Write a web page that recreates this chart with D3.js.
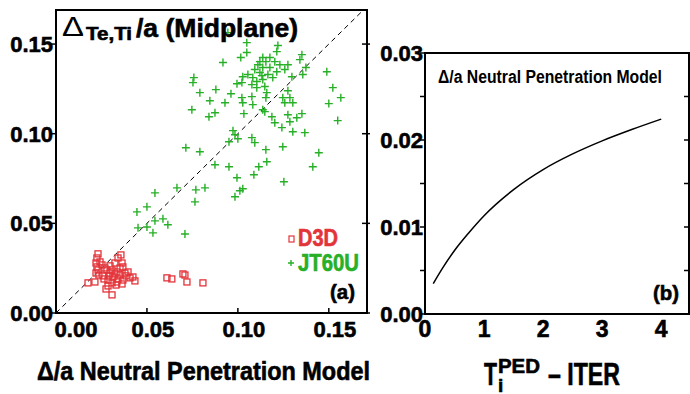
<!DOCTYPE html>
<html lang="en">
<head>
    <meta charset="UTF-8">
    <title>Pedestal width vs neutral penetration model</title>
    <script src="https://d3js.org/d3.v7.js"></script>
    <style>
        body { margin: 0; background: #fff; }
        text { font-family: "Liberation Sans", Arial, sans-serif; font-weight: bold; }
        .heavy { stroke: #000; stroke-width: 0.6; }
    </style>
</head>
<body>
<svg></svg>
<script>
    // panel (a): measured vs model pedestal width
    let d3dX = [0.0231, 0.0225, 0.0220, 0.0225, 0.0231, 0.0220, 0.0357, 0.0341, 0.0363, 0.0368,
        0.0324, 0.0280, 0.0297, 0.0258, 0.0313, 0.0286, 0.0335, 0.0352, 0.0379, 0.0368,
        0.0363, 0.0423, 0.0434, 0.0407, 0.0176, 0.0214, 0.0275, 0.0286, 0.0308, 0.0335,
        0.0610, 0.0637, 0.0698, 0.0709, 0.0720, 0.0808, 0.0253, 0.0269, 0.0297, 0.0308,
        0.0324, 0.0264, 0.0341, 0.0385, 0.0396, 0.0242, 0.0236, 0.0352, 0.0308, 0.0330, 0.0291];
    let d3dY = [0.0330, 0.0307, 0.0279, 0.0257, 0.0240, 0.0223, 0.0324, 0.0307, 0.0279, 0.0257,
        0.0279, 0.0240, 0.0223, 0.0207, 0.0201, 0.0184, 0.0229, 0.0212, 0.0223, 0.0184,
        0.0162, 0.0201, 0.0179, 0.0196, 0.0168, 0.0173, 0.0134, 0.0151, 0.0101, 0.0173,
        0.0196, 0.0190, 0.0218, 0.0212, 0.0173, 0.0168, 0.0268, 0.0251, 0.0263, 0.0240,
        0.0218, 0.0190, 0.0190, 0.0207, 0.0229, 0.0285, 0.0212, 0.0251, 0.0168, 0.0156, 0.0207];

    let jtX = [0.0945, 0.1049, 0.1220, 0.1049, 0.1214, 0.1352, 0.0918, 0.1016, 0.1137, 0.1176,
        0.1121, 0.1154, 0.1203, 0.1231, 0.1275, 0.1341, 0.1374, 0.1489, 0.1137, 0.1176,
        0.1214, 0.1121, 0.1055, 0.1027, 0.1082, 0.1104, 0.1137, 0.1148, 0.1077, 0.1022,
        0.0995, 0.1297, 0.1357, 0.0758, 0.0753, 0.0879, 0.0791, 0.0962, 0.1022, 0.1077,
        0.1154, 0.1286, 0.1258, 0.1522, 0.1566, 0.1500, 0.0846, 0.0929, 0.1027, 0.1082,
        0.1159, 0.1247, 0.1275, 0.1104, 0.0747, 0.1137, 0.1302, 0.0841, 0.0874, 0.1033,
        0.1148, 0.1187, 0.1203, 0.1242, 0.1275, 0.1286, 0.1324, 0.1352, 0.1302, 0.1368,
        0.1549, 0.0973, 0.0984, 0.1000, 0.0951, 0.1077, 0.1093, 0.0714, 0.0791, 0.1154,
        0.1247, 0.1445, 0.0874, 0.0951, 0.1115, 0.1159, 0.1412, 0.0995, 0.1088, 0.1253,
        0.0544, 0.0665, 0.0769, 0.0819, 0.0984, 0.1011, 0.1027, 0.0764, 0.0445, 0.0500,
        0.0451, 0.0500, 0.0544, 0.0588, 0.0615, 0.0533, 0.0709, 0.1110, 0.1165, 0.1192,
        0.1132, 0.1093, 0.1258];
    let jtY = [0.1564, 0.1508, 0.1492, 0.1453, 0.1458, 0.1441, 0.1397, 0.1425, 0.1425, 0.1425,
        0.1402, 0.1402, 0.1402, 0.1385, 0.1385, 0.1413, 0.1369, 0.1346, 0.1369, 0.1369,
        0.1346, 0.1341, 0.1330, 0.1318, 0.1313, 0.1291, 0.1302, 0.1263, 0.1274, 0.1285,
        0.1279, 0.1318, 0.1330, 0.1313, 0.1285, 0.1246, 0.1229, 0.1223, 0.1201, 0.1207,
        0.1201, 0.1201, 0.1173, 0.1257, 0.1201, 0.1168, 0.1184, 0.1173, 0.1173, 0.1162,
        0.1229, 0.1201, 0.1240, 0.1257, 0.1134, 0.1134, 0.1173, 0.1095, 0.1117, 0.1112,
        0.1123, 0.1095, 0.1061, 0.1034, 0.1106, 0.1067, 0.1089, 0.1112, 0.1011, 0.1006,
        0.1073, 0.1017, 0.0994, 0.0972, 0.0955, 0.0978, 0.0950, 0.0922, 0.0899, 0.0911,
        0.0927, 0.0894, 0.0827, 0.0816, 0.0816, 0.0844, 0.0816, 0.0754, 0.0771, 0.0732,
        0.0670, 0.0698, 0.0687, 0.0698, 0.0648, 0.0682, 0.0693, 0.0620, 0.0564, 0.0592,
        0.0475, 0.0480, 0.0514, 0.0525, 0.0492, 0.0447, 0.0441, 0.1385, 0.1330, 0.1313,
        0.1324, 0.1358, 0.1358];

    let ticksA = [0, 0.05, 0.10, 0.15];

    // panel (b): model prediction for ITER
    let tiPed = [0.14, 0.3, 0.5, 0.75, 1, 1.5, 2, 2.5, 3, 3.5, 4];
    let widthModel = [0.0035, 0.0053, 0.0073, 0.0094, 0.0113, 0.0143, 0.0166, 0.0184, 0.0199, 0.0212, 0.0224];
    let ticksBx = [0, 1, 2, 3, 4];
    let ticksBy = [0, 0.01, 0.02, 0.03];
    let minorBy = [0, 0.005, 0.01, 0.015, 0.02, 0.025, 0.03];

    let red = "#e3343a";
    let green = "#27b027";

    let width = 690, height = 394;
    let svg = d3.select("svg").attr("width", width).attr("height", height);

    // ---------- panel (a) ----------
    let xA = d3.scaleLinear().domain([0, 0.171]).range([56, 367]);
    let yA = d3.scaleLinear().domain([0, 0.169]).range([313, 10]);

    svg.append("clipPath").attr("id", "clipA")
        .append("rect").attr("x", 56).attr("y", 10).attr("width", 311).attr("height", 303);

    // y = x reference line
    svg.append("line")
        .attr("clip-path", "url(#clipA)")
        .attr("x1", xA(0)).attr("y1", yA(0))
        .attr("x2", xA(0.171)).attr("y2", yA(0.171))
        .attr("stroke", "#000").attr("stroke-width", 1)
        .attr("stroke-dasharray", "5,4");

    let jt = jtX.map((d, i) => [d, jtY[i]]);
    let d3d = d3dX.map((d, i) => [d, d3dY[i]]);

    svg.append("g").selectAll("path")
        .data(jt)
        .join("path")
        .attr("transform", d => `translate(${xA(d[0])},${yA(d[1])})`)
        .attr("d", "M-4,0H4M0,-4V4")
        .attr("stroke", green).attr("stroke-width", 1.4).attr("fill", "none");

    svg.append("g").selectAll("rect")
        .data(d3d)
        .join("rect")
        .attr("x", d => xA(d[0]) - 3)
        .attr("y", d => yA(d[1]) - 3)
        .attr("width", 6).attr("height", 6)
        .attr("stroke", red).attr("stroke-width", 1.3).attr("fill", "none");

    // frame and ticks
    svg.append("rect").attr("x", 56).attr("y", 10).attr("width", 311).attr("height", 303)
        .attr("fill", "none").attr("stroke", "#000").attr("stroke-width", 2);

    let axA = svg.append("g");
    axA.selectAll(".ly").data(ticksA).join("line").attr("class", "ly")
        .attr("x1", 51).attr("x2", 56).attr("y1", d => yA(d)).attr("y2", d => yA(d))
        .attr("stroke", "#000").attr("stroke-width", 1.5);
    axA.selectAll(".ry").data(ticksA).join("line").attr("class", "ry")
        .attr("x1", 362).attr("x2", 370).attr("y1", d => yA(d)).attr("y2", d => yA(d))
        .attr("stroke", "#000").attr("stroke-width", 1.5);
    axA.selectAll(".bx").data(ticksA).join("line").attr("class", "bx")
        .attr("x1", d => xA(d)).attr("x2", d => xA(d)).attr("y1", 313).attr("y2", 308)
        .attr("stroke", "#000").attr("stroke-width", 1.5);

    axA.selectAll(".yl").data(ticksA).join("text").attr("class", "yl heavy")
        .attr("x", 53).attr("y", d => yA(d) + 8)
        .attr("text-anchor", "end").attr("font-size", 22)
        .text(d => d3.format(".2f")(d));
    axA.selectAll(".xl").data(ticksA).join("text").attr("class", "xl heavy")
        .attr("x", (d, i) => xA(d) + (i === 0 ? 20 : 6)).attr("y", 337)
        .attr("text-anchor", "middle").attr("font-size", 22)
        .text(d => d3.format(".2f")(d));

    // title inside panel (a)
    let tA = svg.append("text");
    tA.append("tspan").attr("x", 62).attr("y", 36).attr("font-size", 27).attr("font-weight", "normal")
        .attr("textLength", 22).attr("lengthAdjust", "spacingAndGlyphs").text("Δ");
    tA.append("tspan").attr("class", "heavy").attr("x", 86).attr("y", 40).attr("font-size", 18)
        .attr("textLength", 46).attr("lengthAdjust", "spacingAndGlyphs").text("Te,Ti");
    tA.append("tspan").attr("class", "heavy").attr("x", 136).attr("y", 37).attr("font-size", 26)
        .attr("textLength", 162).attr("lengthAdjust", "spacingAndGlyphs").text("/a (Midplane)");

    // legend
    svg.append("rect").attr("x", 289).attr("y", 236).attr("width", 5).attr("height", 6)
        .attr("stroke", red).attr("stroke-width", 1.2).attr("fill", "none");
    svg.append("text").attr("x", 298).attr("y", 246).attr("font-size", 23).attr("fill", red)
        .attr("stroke", red).attr("stroke-width", 0.6)
        .attr("textLength", 40).attr("lengthAdjust", "spacingAndGlyphs").text("D3D");
    svg.append("path").attr("transform", "translate(291,263)").attr("d", "M-3,0H3M0,-3V3")
        .attr("stroke", green).attr("stroke-width", 1.4);
    svg.append("text").attr("x", 298).attr("y", 271).attr("font-size", 23).attr("fill", green)
        .attr("stroke", green).attr("stroke-width", 0.6)
        .attr("textLength", 61).attr("lengthAdjust", "spacingAndGlyphs").text("JT60U");
    svg.append("text").attr("class", "heavy").attr("x", 330).attr("y", 299).attr("font-size", 21)
        .attr("textLength", 25).attr("lengthAdjust", "spacingAndGlyphs").text("(a)");

    svg.append("text").attr("class", "heavy").attr("x", 37).attr("y", 380).attr("font-size", 25)
        .attr("textLength", 333).attr("lengthAdjust", "spacingAndGlyphs")
        .text("Δ/a Neutral Penetration Model");

    // ---------- panel (b) ----------
    let xB = d3.scaleLinear().domain([0, 4.47]).range([425, 689]);
    let yB = d3.scaleLinear().domain([0, 0.03]).range([314, 53]);

    svg.append("path")
        .datum(tiPed.map((d, i) => [d, widthModel[i]]))
        .attr("d", d3.line().x(d => xB(d[0])).y(d => yB(d[1])).curve(d3.curveMonotoneX))
        .attr("fill", "none").attr("stroke", "#000").attr("stroke-width", 1.5);

    svg.append("rect").attr("x", 425).attr("y", 53).attr("width", 264).attr("height", 261)
        .attr("fill", "none").attr("stroke", "#000").attr("stroke-width", 2);

    let axB = svg.append("g");
    axB.selectAll(".ly").data(minorBy).join("line").attr("class", "ly")
        .attr("x1", 420).attr("x2", 425).attr("y1", d => yB(d)).attr("y2", d => yB(d))
        .attr("stroke", "#000").attr("stroke-width", 1.5);
    axB.selectAll(".ry").data(minorBy).join("line").attr("class", "ry")
        .attr("x1", 684).attr("x2", 689).attr("y1", d => yB(d)).attr("y2", d => yB(d))
        .attr("stroke", "#000").attr("stroke-width", 1.5);
    axB.selectAll(".yl").data(ticksBy).join("text").attr("class", "yl heavy")
        .attr("x", 423).attr("y", d => yB(d) + 8)
        .attr("text-anchor", "end").attr("font-size", 22)
        .text(d => d3.format(".2f")(d));
    axB.selectAll(".xl").data(ticksBx).join("text").attr("class", "xl heavy")
        .attr("x", d => xB(d)).attr("y", 337)
        .attr("text-anchor", "middle").attr("font-size", 23)
        .text(d => d);

    svg.append("text").attr("x", 438).attr("y", 83).attr("font-size", 18)
        .attr("textLength", 224).attr("lengthAdjust", "spacingAndGlyphs")
        .text("Δ/a Neutral Penetration Model");
    svg.append("text").attr("class", "heavy").attr("x", 653).attr("y", 300).attr("font-size", 21)
        .attr("textLength", 26).attr("lengthAdjust", "spacingAndGlyphs").text("(b)");

    // T_i^PED - ITER
    let tB = svg.append("text").attr("class", "heavy");
    tB.append("tspan").attr("x", 484).attr("y", 385).attr("font-size", 31)
        .attr("textLength", 13).attr("lengthAdjust", "spacingAndGlyphs").text("T");
    tB.append("tspan").attr("x", 498).attr("y", 392).attr("font-size", 19).text("i");
    tB.append("tspan").attr("x", 498).attr("y", 373).attr("font-size", 21)
        .attr("textLength", 42).attr("lengthAdjust", "spacingAndGlyphs").text("PED");
    tB.append("tspan").attr("x", 548).attr("y", 385).attr("font-size", 31)
        .attr("textLength", 72).attr("lengthAdjust", "spacingAndGlyphs").text("– ITER");
</script>
</body>
</html>
